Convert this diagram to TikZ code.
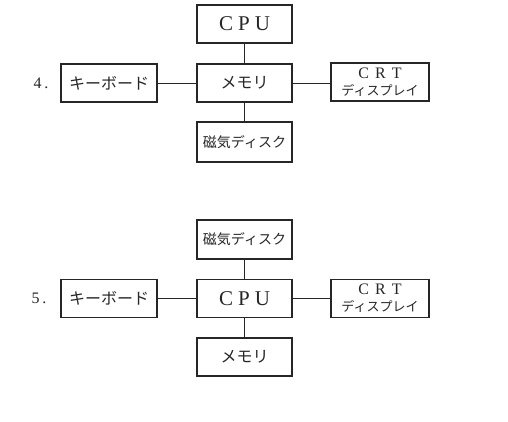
\documentclass[tikz,border=0pt]{standalone}
\usepackage{fontspec}
\setmainfont{Liberation Serif}
\newfontfamily\jpfont{Noto Sans CJK JP}
\definecolor{blkInk}{HTML}{262626}
\tikzset{
  blk box/.style={draw=blkInk, line width=1.4pt, minimum width=95pt, minimum height=38pt, inner sep=0pt, text=blkInk},
  blk link/.style={draw=blkInk, line width=1pt},
  blk jp/.style={font=\jpfont\fontsize{16}{18}\selectfont},
  blk disk/.style={font=\jpfont\fontsize{14}{16}\selectfont},
  blk cpu/.style={font=\fontsize{21}{24}\selectfont},
  blk crt/.style={align=center, font=\fontsize{16}{17}\selectfont},
  blk num/.style={font=\fontsize{16}{18}\selectfont, text=blkInk},
}
\newcommand{\cpulabel}{C\hspace{5pt}P\hspace{5pt}U}
\newcommand{\crtlabel}{C\hspace{6pt}R\hspace{6pt}T\\{\jpfont\fontsize{13}{13}\selectfont ディスプレイ}}

\begin{document}
\begin{tikzpicture}[x=1pt,y=-1pt]
\useasboundingbox (0,0) rectangle (508,421);
% 4.
\node[blk num] (numA) at (41,83) {4\hspace{3pt}.};
\node[blk box,blk cpu] (cpuA) at (244.5,24) {\cpulabel};
\node[blk box,blk jp] (memA) at (244.5,83) {メモリ};
\node[blk box,blk jp,minimum width=96pt] (keyA) at (109,83) {キーボード};
\node[blk box,blk crt,minimum width=98pt] (crtA) at (380,82) {\crtlabel};
\node[blk box,blk disk,minimum height=40pt] (dskA) at (244.5,142) {磁気ディスク};
\draw[blk link] (cpuA)--(memA) (memA)--(dskA);
\draw[blk link] (keyA)--(memA) (memA.east)--(crtA.west|-memA.east);
% 5.
\node[blk num] (numB) at (39,298) {5\hspace{3pt}.};
\node[blk box,blk disk,minimum height=39pt] (dskB) at (244.5,239.5) {磁気ディスク};
\node[blk box,blk cpu] (cpuB) at (244.5,298.5) {\cpulabel};
\node[blk box,blk jp,minimum width=96pt] (keyB) at (109,298.5) {キーボード};
\node[blk box,blk crt,minimum width=98pt] (crtB) at (380,298.5) {\crtlabel};
\node[blk box,blk jp] (memB) at (244.5,357) {メモリ};
\draw[blk link] (dskB)--(cpuB) (cpuB)--(memB);
\draw[blk link] (keyB)--(cpuB) (cpuB)--(crtB);
\end{tikzpicture}
\end{document}
